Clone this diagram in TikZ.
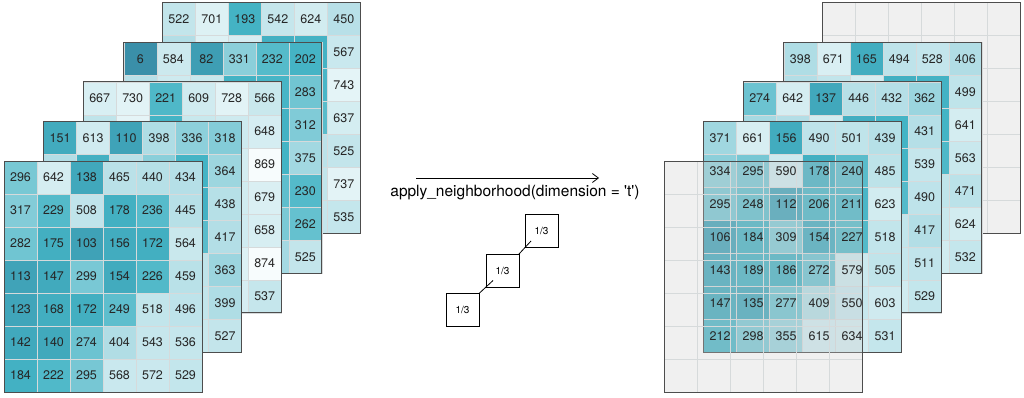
\documentclass[tikz,border=0pt]{standalone}
\usepackage{fontspec}
\setmainfont{TeX Gyre Heros}
\usepackage{tikz}
\usetikzlibrary{arrows.meta,positioning,calc}
\pgfdeclarelayer{fg}
\pgfsetlayers{main,fg}

\definecolor{tealdark}{HTML}{3A8EA8}
\definecolor{tealmid}{HTML}{44B4C5}
\definecolor{teallight}{HTML}{B0DDE5}
\definecolor{tealpale}{HTML}{F7FCFD}
\definecolor{cellline}{HTML}{D6DADB}
\definecolor{framegrey}{HTML}{4D4D4D}

\newcommand\cellcolour[1]{%
  \ifdim#1pt<200pt
    \pgfmathsetmacro\mixpc{#1/2}\colorlet{cellfill}{tealmid!\mixpc!tealdark}%
  \else\ifdim#1pt<400pt
    \pgfmathsetmacro\mixpc{(#1-200)/2}\colorlet{cellfill}{teallight!\mixpc!tealmid}%
  \else
    \pgfmathsetmacro\mixpc{min(100,(#1-400)/4.7)}\colorlet{cellfill}{tealpale!\mixpc!teallight}%
  \fi\fi}

% name, x, y, rows, 1 = all values shown / 0 = top row and right column only
\newcommand\valuelayer[5]{%
  \foreach \rowvals [count=\rw from 0] in {#4}{
    \foreach \v [count=\cl from 0] in \rowvals{
      \cellcolour{\v}
      \node[cell, fill=cellfill] (#1-\rw-\cl) at ({#2+33*\cl+16.5},{#3+33*\rw+16.5}) {};
      \pgfmathtruncatemacro\showv{or(or(\rw==0,\cl==5),#5)}
      \ifnum\showv=1
        \begin{pgfonlayer}{fg}
          \node[celltext] (#1-\rw-\cl-v) at (#1-\rw-\cl) {\v};
        \end{pgfonlayer}
      \fi
    }
  }
  \draw[frame] (#1-0-0.north west) rectangle (#1-6-5.south east);
}

\newcommand\greylayer[3]{%
  \foreach \rw in {0,...,6}{
    \foreach \cl in {0,...,5}{
      \node[cell, greycell] (#1-\rw-\cl) at ({#2+33*\cl+16.5},{#3+33*\rw+16.5}) {};
    }
  }
  \draw[frame] (#1-0-0.north west) rectangle (#1-6-5.south east);
}

\begin{document}
\begin{tikzpicture}[x=1pt, y=-1pt,
  cell/.style={minimum width=33pt, minimum height=33pt, inner sep=0pt, outer sep=0pt,
    draw=cellline, line width=0.5pt},
  celltext/.style={inner sep=0pt, text=black!85, font=\fontsize{12.5}{14}\selectfont},
  greycell/.style={fill=black!20, fill opacity=0.3},
  frame/.style={draw=framegrey, line width=1pt},
  weight/.style={draw, minimum width=33pt, minimum height=33pt, inner sep=0pt, outer sep=0pt,
    line width=0.7pt, font=\fontsize{10}{12}\selectfont}]
\useasboundingbox (0,0) rectangle (1024,397);

\valuelayer{L4}{162.4}{2.6}{{522,701,193,542,624,450},{420,700,650,180,190,567},{400,680,600,200,210,743},{380,650,580,220,240,637},{420,620,560,450,480,525},{450,600,540,500,520,737},{480,580,520,520,540,535}}{0}
\valuelayer{L3}{123.8}{42.2}{{6,584,82,331,232,202},{450,600,560,196,206,283},{200,180,150,160,190,312},{210,190,170,180,200,375},{230,220,210,230,250,230},{260,250,240,270,300,262},{300,320,330,350,380,525}}{0}
\valuelayer{L2}{83.2}{81.8}{{667,730,221,609,728,566},{500,750,200,560,600,648},{480,620,240,400,640,869},{450,600,300,420,620,679},{400,580,320,450,610,658},{420,590,330,470,700,874},{440,560,350,480,650,537}}{0}
\valuelayer{L1}{43.6}{121.4}{{151,613,110,398,336,318},{420,180,460,330,200,364},{300,190,120,160,190,438},{140,160,310,170,240,417},{150,170,190,260,500,363},{160,150,290,420,520,399},{200,230,300,540,560,527}}{0}
\valuelayer{L0}{4}{161}{{296,642,138,465,440,434},{317,229,508,178,236,445},{282,175,103,156,172,564},{113,147,299,154,226,459},{123,168,172,249,518,496},{142,140,274,404,543,536},{184,222,295,568,572,529}}{1}

\coordinate (arrowstart) at (416,178);
\coordinate (arrowend) at (599,178);
\draw[-{Straight Barb[length=6pt, width=9pt]}, line width=0.8pt] (arrowstart) -- (arrowend);
\node[font=\fontsize{15.5}{18}\selectfont] (label) at (515,193) {apply\_neighborhood(dimension = \textquotesingle t\textquotesingle)};

\node[weight] (w1) at (462.5,310) {1/3};
\node[weight] (w2) at (502.5,270.5) {1/3};
\node[weight] (w3) at (541.5,231) {1/3};
\draw[line width=0.8pt] (w1.north east) -- ($(w1.north east)!2!(w2.south west)$);
\draw[line width=0.8pt] (w2.north east) -- ($(w2.north east)!2!(w3.south west)$);

\greylayer{R4}{822.4}{2.6}
\valuelayer{R3}{783.8}{42.2}{{398,671,165,494,528,406},{420,520,640,180,190,499},{300,260,160,170,200,641},{200,190,280,170,220,563},{180,200,220,300,500,471},{190,180,300,430,560,624},{240,300,360,580,620,532}}{0}
\valuelayer{R2}{743.2}{81.8}{{274,642,137,446,432,362},{380,420,620,170,200,431},{300,260,150,190,200,539},{150,190,300,170,230,490},{160,190,200,280,520,417},{170,160,290,420,540,511},{230,290,350,580,610,529}}{0}
\valuelayer{R1}{703.6}{121.4}{{371,661,156,490,501,439},{334,295,590,178,240,485},{295,248,112,206,211,623},{106,184,309,154,227,518},{143,189,186,272,579,505},{147,135,277,409,550,603},{212,298,355,615,634,531}}{1}
\greylayer{R0}{664}{161}
\end{tikzpicture}
\end{document}
